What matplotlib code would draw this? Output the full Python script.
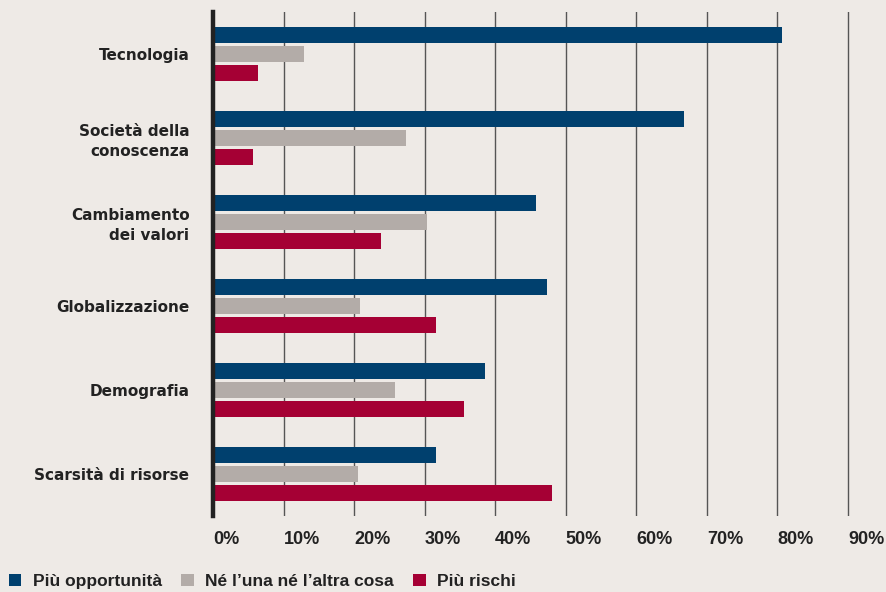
import numpy as np
import matplotlib.pyplot as plt
from matplotlib.patches import Patch

categorie = ['Tecnologia', 'Società della\nconoscenza', 'Cambiamento\ndei valori',
             'Globalizzazione', 'Demografia', 'Scarsità di risorse']
opportunita = [80.7, 66.7, 45.8, 47.3, 38.5, 31.6]
neutro = [12.9, 27.3, 30.3, 20.8, 25.8, 20.5]
rischi = [6.4, 5.7, 23.8, 31.6, 35.6, 48.0]
serie_nomi = ['Più opportunità', 'Né l’una né l’altra cosa', 'Più rischi']
colori = ['#00406e', '#b3aca8', '#a50034']
tick_vals = list(range(0, 100, 10))

bg = '#eeeae6'
narrow = ['Liberation Sans Narrow', 'Liberation Sans', 'DejaVu Sans']

fig = plt.figure(figsize=(8.87, 5.92), dpi=100, facecolor=bg)
xmax = 90.6
ax = fig.add_axes([213 / 887, 1 - 516 / 592, (848 - 213) / 887 * xmax / 90, 504 / 592])
ax.set_facecolor(bg)

y = np.arange(len(categorie))
h = 0.19
off = 0.226
for vals, dy, c in zip([opportunita, neutro, rischi], [-off, 0, off], colori):
    ax.barh(y + dy, vals, height=h, color=c, zorder=3)

ax.set_xlim(0, xmax)
ax.set_ylim(len(categorie) - 0.5, -0.5)
ax.set_xticks(tick_vals)
ax.set_xticklabels([f'{v}%' for v in tick_vals], family=narrow, fontsize=13,
                   fontweight='bold', color='#222222', ha='left')
ax.tick_params(axis='x', length=0, pad=11)
ax.set_yticks(y)
ax.set_yticklabels(categorie, fontsize=11, fontweight='bold', color='#222222',
                   ha='right', linespacing=1.4)
ax.tick_params(axis='y', length=0, pad=17)
ax.grid(axis='x', color='#555555', linewidth=1.0, zorder=0)
for s in ['top', 'right', 'bottom']:
    ax.spines[s].set_visible(False)
ax.spines['left'].set_linewidth(3.2)
ax.spines['left'].set_color('#222222')
ax.spines['left'].set_zorder(4)

handles = [Patch(facecolor=c, edgecolor='none') for c in colori]
fig.legend(handles, serie_nomi, loc='lower left', bbox_to_anchor=(-0.004, -0.016),
           ncol=3, frameon=False, handlelength=0.72, handleheight=0.72,
           handletextpad=0.68, columnspacing=1.1, borderaxespad=0.3,
           prop={'family': narrow, 'size': 12.5, 'weight': 'bold'},
           labelcolor='#222222')

fig.savefig('out.png', dpi=100, facecolor=bg)
